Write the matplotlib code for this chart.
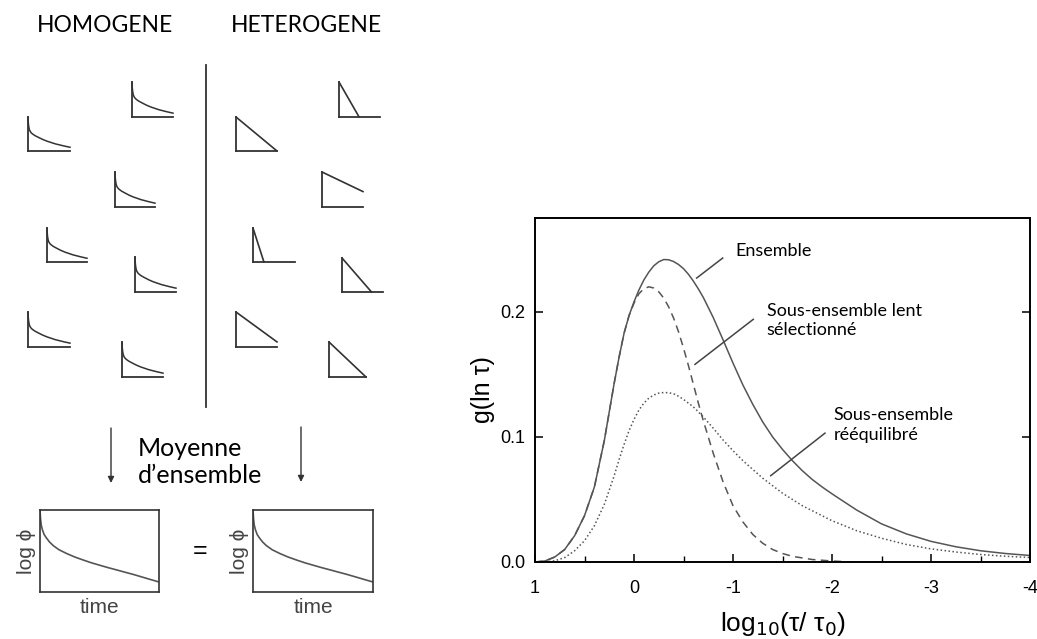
import matplotlib
matplotlib.use("Agg")
import matplotlib.pyplot as plt

plt.rcParams["axes.unicode_minus"] = False
plt.rcParams["font.family"] = ["Liberation Sans", "DejaVu Sans"]

W, H, DPI = 1037, 639, 100
CAL = ["Lato", "DejaVu Sans"]          # pour les textes type Calibri
CURVE = "#555555"
INK = "#333333"

# ── données : distribution g(ln tau) ─────────────────────────
x_ens = [1.0, 0.9, 0.8, 0.7, 0.6, 0.5, 0.4, 0.3, 0.25, 0.2, 0.15, 0.1, 0.05,
         0.0, -0.05, -0.1, -0.15, -0.2, -0.25, -0.3, -0.35, -0.4, -0.45, -0.5,
         -0.55, -0.6, -0.65, -0.7, -0.8, -0.9, -1.0, -1.1, -1.2, -1.3, -1.4,
         -1.5, -1.6, -1.7, -1.8, -1.9, -2.0, -2.25, -2.5, -2.75, -3.0, -3.25,
         -3.5, -3.75, -4.0]
g_ens = [0.0, 0.0008, 0.004, 0.010, 0.021, 0.037, 0.060, 0.097, 0.120, 0.143,
         0.164, 0.183, 0.197, 0.208, 0.2175, 0.2255, 0.2318, 0.2368, 0.2400,
         0.2418, 0.2416, 0.2402, 0.2378, 0.2345, 0.2300, 0.2245, 0.2183,
         0.2115, 0.1955, 0.1775, 0.1590, 0.1415, 0.1260, 0.1120, 0.1000,
         0.0900, 0.0810, 0.0730, 0.0660, 0.0600, 0.0545, 0.0415, 0.0305,
         0.0225, 0.0165, 0.0122, 0.0090, 0.0068, 0.0052]

x_lent = [1.0, 0.9, 0.8, 0.7, 0.6, 0.5, 0.4, 0.3, 0.25, 0.2, 0.15, 0.1, 0.05,
          0.0, -0.05, -0.1, -0.15, -0.2, -0.25, -0.3, -0.35, -0.4, -0.45, -0.5,
          -0.55, -0.6, -0.65, -0.7, -0.8, -0.9, -1.0, -1.1, -1.2, -1.3, -1.4,
          -1.5, -1.6, -1.8, -2.0, -2.2]
g_lent = [0.0, 0.0008, 0.004, 0.010, 0.021, 0.037, 0.060, 0.097, 0.120, 0.143,
          0.164, 0.183, 0.197, 0.207, 0.2145, 0.2185, 0.2200, 0.2190, 0.2160,
          0.2110, 0.2040, 0.1950, 0.1840, 0.1710, 0.1570, 0.1420, 0.1270,
          0.1130, 0.0870, 0.0640, 0.0450, 0.0320, 0.0220, 0.0150, 0.0100,
          0.0068, 0.0045, 0.0020, 0.0008, 0.0]

x_reeq = [0.9, 0.8, 0.7, 0.6, 0.5, 0.4, 0.3, 0.2, 0.15, 0.1, 0.05, 0.0, -0.05,
          -0.1, -0.15, -0.2, -0.25, -0.3, -0.35, -0.4, -0.45, -0.5, -0.55,
          -0.6, -0.7, -0.8, -0.9, -1.0, -1.1, -1.2, -1.3, -1.4, -1.5, -1.6,
          -1.7, -1.8, -1.9, -2.0, -2.25, -2.5, -2.75, -3.0, -3.25, -3.5, -3.75,
          -4.0]
g_reeq = [0.0, 0.001, 0.0035, 0.009, 0.017, 0.029, 0.046, 0.069, 0.082, 0.094,
          0.105, 0.114, 0.1215, 0.127, 0.131, 0.1335, 0.1350, 0.1355, 0.1353,
          0.1345, 0.1325, 0.1300, 0.1270, 0.1240, 0.1160, 0.1070, 0.0975,
          0.0890, 0.0810, 0.0740, 0.0670, 0.0610, 0.0550, 0.0500, 0.0450,
          0.0410, 0.0370, 0.0330, 0.0250, 0.0190, 0.0140, 0.0105, 0.0080,
          0.0060, 0.0046, 0.0036]

x_ticks = [1, 0, -1, -2, -3, -4]
y_ticks = [0.0, 0.1, 0.2]

# ── annotations (texte, position, segment guide) ─────────────
ann_text = ["Ensemble", "Sous-ensemble lent\nsélectionné", "Sous-ensemble\nrééquilibré"]
ann_xy = [(-1.02, 0.249), (-1.34, 0.193), (-2.013, 0.1096)]
ann_seg = [((-0.633, 0.227), (-0.896, 0.243)),
           ((-0.616, 0.158), (-1.205, 0.194)),
           ((-1.381, 0.069), (-1.929, 0.103))]

# ── schéma : relaxation log(phi) vs temps ────────────────────
decay_t = [0.0, 0.005, 0.015, 0.03, 0.05, 0.08, 0.12, 0.17, 0.25, 0.35, 0.45,
           0.55, 0.65, 0.75, 0.85, 1.0]
decay_h = [1.0, 0.86, 0.74, 0.64, 0.58, 0.53, 0.49, 0.45, 0.40, 0.34, 0.29,
           0.25, 0.21, 0.18, 0.15, 0.11]

avg_t = [0.0, 0.004, 0.01, 0.02, 0.035, 0.056, 0.08, 0.112, 0.16, 0.223, 0.29,
         0.363, 0.43, 0.503, 0.57, 0.642, 0.71, 0.782, 0.85, 0.922, 1.0]
avg_h = [1.0, 0.90, 0.82, 0.76, 0.70, 0.655, 0.61, 0.565, 0.515, 0.47, 0.428,
         0.39, 0.357, 0.326, 0.298, 0.27, 0.243, 0.215, 0.186, 0.155, 0.122]

# boîtes des icônes (pixels : x0, y_haut, x1, y_bas)
homo_boxes = [(132, 82, 173, 117), (28, 117, 70, 151), (115, 172, 155, 207),
              (47, 228, 87, 262), (135, 257, 176, 292), (28, 312, 70, 347),
              (122, 342, 163, 377)]
hetero_boxes = [(339, 82, 380, 117), (236, 117, 277, 151), (322, 172, 363, 207),
                (253, 228, 295, 262), (342, 258, 383, 292), (236, 312, 277, 347),
                (329, 342, 366, 377)]
# extrémité de la pente (fraction de la boîte)
hetero_end = [(0.49, 0.0), (1.0, 0.0), (1.0, 0.44), (0.26, 0.0),
              (0.72, 0.0), (1.0, 0.145), (1.0, 0.0)]


def px_rect(x0, y0, x1, y1):
    return [x0 / W, 1 - y1 / H, (x1 - x0) / W, (y1 - y0) / H]


fig = plt.figure(figsize=(W / DPI, H / DPI), dpi=DPI)

# calque de fond en pixels pour le schéma
ov = fig.add_axes([0, 0, 1, 1])
ov.set_xlim(0, W)
ov.set_ylim(H, 0)
ov.axis("off")
ov.text(105, 25, "HOMOGENE", family=CAL, fontsize=16.5, ha="center", va="center")
ov.text(306, 25, "HETEROGENE", family=CAL, fontsize=16.5, ha="center", va="center")
ov.plot([206, 206], [65, 407], color=INK, lw=1.3)
for xa, y0, y1 in [(111, 428, 483), (301, 427, 482)]:
    ov.annotate("", xy=(xa, y1), xytext=(xa, y0),
                arrowprops=dict(arrowstyle="-|>", color=INK, lw=1.0,
                                mutation_scale=9, shrinkA=0, shrinkB=0))
ov.text(138, 462, "Moyenne\nd\u2019ensemble", family=CAL, fontsize=18,
        ha="left", va="center", linespacing=1.2)
ov.text(200, 551, "=", fontsize=18, ha="center", va="center")


def icon_axes(box):
    a = fig.add_axes(px_rect(*box))
    a.set_xlim(0, 1)
    a.set_ylim(0, 1)
    a.patch.set_visible(False)
    a.set_xticks([])
    a.set_yticks([])
    for s in ("top", "right"):
        a.spines[s].set_visible(False)
    for s in ("left", "bottom"):
        a.spines[s].set_color(INK)
        a.spines[s].set_linewidth(1.3)
    return a


for box in homo_boxes:
    a = icon_axes(box)
    a.plot(decay_t, decay_h, color=INK, lw=1.1, clip_on=False)

for box, (ex, ey) in zip(hetero_boxes, hetero_end):
    a = icon_axes(box)
    a.plot([0, ex], [1, ey], color=INK, lw=1.2, clip_on=False)

# deux petits graphes moyennés
for box in [(40, 510, 159, 592), (253, 510, 373, 592)]:
    a = fig.add_axes(px_rect(*box))
    a.plot(avg_t, avg_h, color=CURVE, lw=1.2)
    a.set_xlim(0, 1)
    a.set_ylim(0, 1)
    a.set_xticks([])
    a.set_yticks([])
    for s in a.spines.values():
        s.set_linewidth(1.2)
        s.set_color(INK)
    a.set_xlabel("time", fontsize=15, labelpad=4, color="#444444")
    a.set_ylabel("log \u03d5", fontsize=15, labelpad=3, color="#444444")

# ── graphe principal ──────────────────────────────────────────
ax = fig.add_axes(px_rect(535, 218, 1030, 562))
ax.plot(x_ens, g_ens, color=CURVE, lw=1.1)
ax.plot(x_lent, g_lent, color=CURVE, lw=1.1, dashes=(5, 3.5))
ax.plot(x_reeq, g_reeq, color=CURVE, lw=1.1, dashes=(1, 1.6))
ax.set_xlim(1, -4)
ax.set_ylim(0, 0.275)
ax.set_xticks(x_ticks)
ax.set_xticklabels([str(t) for t in x_ticks])
ax.set_xticks([0.5, -0.5, -1.5, -2.5, -3.5], minor=True)
ax.set_yticks(y_ticks)
ax.set_yticklabels([f"{t:.1f}" for t in y_ticks])
ax.tick_params(axis="both", which="major", direction="in", length=6, width=1.1,
               labelsize=13)
ax.tick_params(axis="x", which="major", pad=13)
ax.tick_params(axis="y", which="major", pad=7)
ax.tick_params(axis="x", which="minor", direction="in", length=4, width=1.0)
ax.tick_params(axis="y", right=True)
for s in ax.spines.values():
    s.set_linewidth(1.4)
ax.set_xlabel("log$_{10}$(\u03c4/ \u03c4$_0$)", fontsize=19, labelpad=9)
ax.set_ylabel("g(ln \u03c4)", fontsize=18, labelpad=4)

for txt, (tx, ty), (p0, p1) in zip(ann_text, ann_xy, ann_seg):
    ax.text(tx, ty, txt, family=CAL, fontsize=13, ha="left", va="center",
            linespacing=1.25)
    ax.plot([p0[0], p1[0]], [p0[1], p1[1]], color="#444444", lw=1.1)

fig.savefig("out.png", dpi=DPI)
